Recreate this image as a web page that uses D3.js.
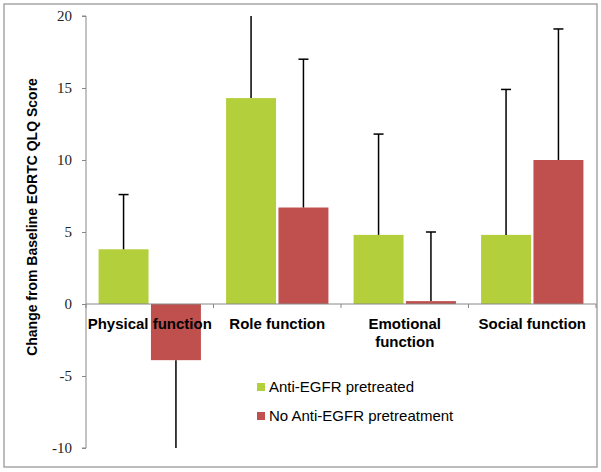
<!DOCTYPE html>
<html lang="en">
<head><meta charset="utf-8">
<title>EORTC QLQ change from baseline</title>
<style>
body { margin: 0; background: #fff; }
svg { display: block; }
.cat { font-family: "Liberation Sans", Arial, sans-serif; font-weight: bold; font-size: 15px; fill: #000; }
.tick text { font-family: "Liberation Serif", "DejaVu Serif", serif; font-size: 15px; fill: #222; }
.leg { font-family: "Liberation Sans", Arial, sans-serif; font-size: 15px; fill: #000; }
.ytitle { font-family: "Liberation Sans", Arial, sans-serif; font-weight: bold; font-size: 14px; fill: #000; }
</style>
</head>
<body>
<svg></svg>
<script src="https://d3js.org/d3.v7.min.js"></script>
<script>

// data
var categories = [["Physical function"], ["Role function"], ["Emotional", "function"], ["Social function"]];
var series = ["Anti-EGFR pretreated", "No Anti-EGFR pretreatment"];
var colors = ["#b4cf3c", "#c0504d"];
var pretreated = [3.8, 14.3, 4.8, 4.8];
var notPretreated = [-3.9, 6.7, 0.2, 10.0];
// one-sided error bar lengths (drawn away from zero)
var errPretreated = [3.8, 6.2, 7.0, 10.1];
var errNotPretreated = [6.3, 10.3, 4.8, 9.1];
var yTicks = [-10, -5, 0, 5, 10, 15, 20];

var width = 601, height = 472;

var svg = d3.select("svg")
    .attr("width", width)
    .attr("height", height);

// outer frame
svg.append("rect")
    .attr("x", 4).attr("y", 4)
    .attr("width", 593).attr("height", 463)
    .attr("fill", "none")
    .attr("stroke", "#999")
    .attr("stroke-width", 1.3);

var y = d3.scaleLinear().domain([-10, 20]).range([448, 16]);

var x0 = d3.scaleBand()
    .domain(d3.range(categories.length))
    .range([86, 596])
    .padding(0);

var x1 = d3.scaleBand()
    .domain(d3.range(series.length))
    .range([0, x0.bandwidth()])
    .paddingInner(0.046)
    .paddingOuter(0.24);

var values = [pretreated, notPretreated];
var errs = [errPretreated, errNotPretreated];

var rows = [];
categories.forEach(function(c, i) {
  series.forEach(function(s, j) {
    rows.push({cat: i, ser: j, v: values[j][i], e: errs[j][i]});
  });
});

// y axis
var yAxis = svg.append("g")
    .attr("transform", "translate(86,0)")
    .call(d3.axisLeft(y).tickValues(yTicks).tickSize(4).tickPadding(10).tickFormat(function(d) { return String(d); }));
yAxis.selectAll("line, path").attr("stroke", "#888");
yAxis.select(".domain").attr("d", "M-4," + y(20) + "H0V" + y(-10) + "H-4");

// bars
svg.append("g").selectAll("rect")
    .data(rows)
    .join("rect")
    .attr("x", function(d) { return x0(d.cat) + x1(d.ser); })
    .attr("width", x1.bandwidth())
    .attr("y", function(d) { return y(Math.max(0, d.v)); })
    .attr("height", function(d) { return Math.abs(y(d.v) - y(0)); })
    .attr("fill", function(d) { return colors[d.ser]; });

// x axis at zero
var xAxis = svg.append("g").attr("transform", "translate(0," + y(0) + ")");
xAxis.append("line")
    .attr("x1", 86).attr("x2", 596)
    .attr("stroke", "#888");
xAxis.selectAll(".xt")
    .data(d3.range(categories.length + 1))
    .join("line")
    .attr("class", "xt")
    .attr("x1", function(d) { return 86 + d * x0.step(); })
    .attr("x2", function(d) { return 86 + d * x0.step(); })
    .attr("y1", 0).attr("y2", 4)
    .attr("stroke", "#888");

// error bars
var eb = svg.append("g").attr("stroke", "#000").attr("stroke-width", 1.5);
rows.forEach(function(d) {
  var cx = x0(d.cat) + x1(d.ser) + x1.bandwidth() / 2;
  var end = d.v >= 0 ? d.v + d.e : d.v - d.e;
  var clipped = end > 20 || end < -10;
  end = Math.max(-10, Math.min(20, end));
  eb.append("line")
      .attr("x1", cx).attr("x2", cx)
      .attr("y1", y(d.v)).attr("y2", y(end));
  if (!clipped) {
    eb.append("line")
        .attr("x1", cx - 5).attr("x2", cx + 5)
        .attr("y1", y(end)).attr("y2", y(end));
  }
});

// category labels
var labels = svg.append("g");
categories.forEach(function(lines, i) {
  var t = labels.append("text")
      .attr("class", "cat")
      .attr("text-anchor", "middle")
      .attr("x", x0(i) + x0.bandwidth() / 2)
      .attr("y", 329);
  lines.forEach(function(l, k) {
    t.append("tspan")
        .attr("x", x0(i) + x0.bandwidth() / 2)
        .attr("dy", k === 0 ? 0 : 17.5)
        .text(l);
  });
});

// y title
svg.append("text")
    .attr("class", "ytitle")
    .attr("text-anchor", "middle")
    .attr("transform", "translate(37,217) rotate(-90)")
    .text("Change from Baseline EORTC QLQ Score");

// legend
var legY = [392, 421];
series.forEach(function(s, j) {
  svg.append("rect")
      .attr("x", 257).attr("y", legY[j] - 9)
      .attr("width", 8).attr("height", 8)
      .attr("fill", colors[j]);
  svg.append("text")
      .attr("class", "leg")
      .attr("x", 269).attr("y", legY[j])
      .text(s);
});

</script>
</body>
</html>
